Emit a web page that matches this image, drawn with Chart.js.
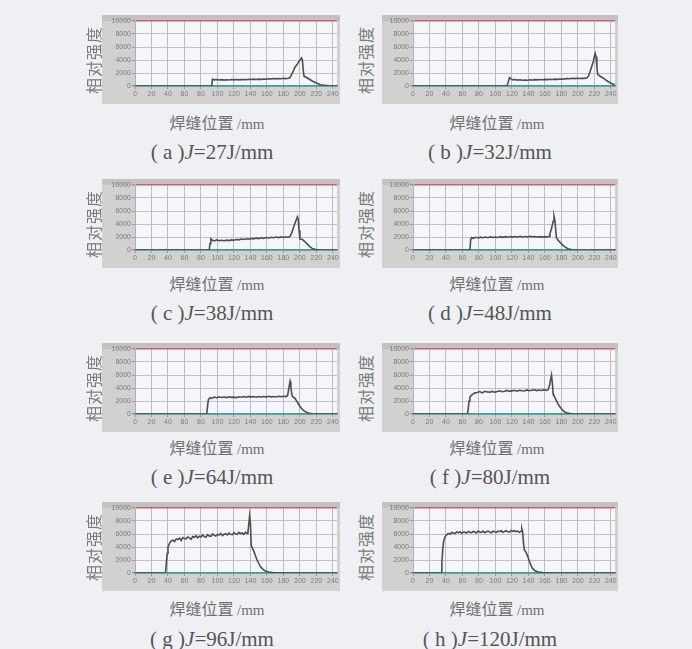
<!DOCTYPE html>
<html>
<head>
<meta charset="utf-8">
<script src="https://cdn.jsdelivr.net/npm/chart.js@4.4.1/dist/chart.umd.min.js"></script>
<style>
body { margin:0; background:#eff0f3; width:692px; height:649px; position:relative; overflow:hidden; font-family:"Noto Sans CJK SC", sans-serif; }
.frame { position:absolute; }
.ylab { position:absolute; font-size:16px; color:#7a7a7a; transform:translate(-50%,-50%) rotate(-90deg); white-space:nowrap; letter-spacing:1px; }
.xlab { position:absolute; font-size:16px; color:#707070; transform:translate(-50%,-50%); white-space:nowrap; }
.xlab span { font-family:"Liberation Serif", serif; font-size:15px; }
.cap { position:absolute; font-family:"Liberation Serif", serif; font-size:21px; color:#555; transform:translate(-50%,-50%); white-space:nowrap; }
</style>
</head>
<body>
<script>
// tick labels
var xTicks = [0, 20, 40, 60, 80, 100, 120, 140, 160, 180, 200, 220, 240];
var yTicks = [0, 2000, 4000, 6000, 8000, 10000];

var letters = ['a', 'b', 'c', 'd', 'e', 'f', 'g', 'h'];
var energies = ['27', '32', '38', '48', '64', '80', '96', '120'];

// [position mm, relative intensity]
var curveA = [[0,0],[93,0],[94,1050],[96,950],[99,1000],[102,920],[105,980],[108,900],[111,960],[114,930],[117,990],[120,940],[123,1000],[126,950],[129,980],[132,1010],[135,960],[138,1030],[141,990],[144,1050],[147,1000],[150,1060],[153,1020],[156,1080],[159,1050],[162,1120],[165,1080],[168,1150],[171,1100],[174,1160],[177,1120],[180,1180],[183,1140],[186,1200],[188,1300],[191,2000],[194,2900],[197,3400],[199,3800],[201,4100],[202,4300],[203,4000],[204,2500],[205,1500],[208,1300],[212,1000],[216,700],[220,450],[225,200],[230,100],[235,50],[240,0],[247,0]];
var curveB = [[0,0],[114,0],[115,400],[117,1300],[119,1100],[121,950],[124,1000],[127,900],[130,950],[133,880],[136,930],[139,890],[142,950],[145,920],[148,980],[151,940],[154,1000],[157,960],[160,1020],[163,980],[166,1040],[169,1000],[172,1060],[175,1020],[178,1070],[181,1040],[184,1100],[187,1150],[190,1120],[193,1180],[196,1130],[199,1190],[202,1150],[205,1200],[208,1170],[211,1250],[213,1600],[215,2300],[217,3100],[219,3900],[220,4600],[221,5000],[222,4500],[223,3000],[224,1800],[227,1500],[231,1200],[235,800],[239,500],[243,250],[247,80]];
var curveC = [[0,0],[90,0],[91,1000],[92,1700],[94,1500],[96,1400],[99,1550],[102,1420],[105,1500],[108,1430],[111,1520],[114,1450],[117,1560],[120,1500],[123,1620],[126,1560],[129,1680],[132,1620],[135,1720],[138,1660],[141,1780],[144,1720],[147,1830],[150,1760],[153,1880],[156,1800],[159,1920],[162,1850],[165,1960],[168,1880],[171,1990],[174,1900],[177,2020],[180,1930],[183,2040],[186,1960],[188,2100],[190,2600],[192,3400],[194,4100],[196,4800],[197,5100],[198,4700],[199,3000],[200,1700],[203,1600],[206,1300],[209,900],[212,500],[215,250],[218,100],[222,30],[228,0],[247,0]];
var curveD = [[0,0],[69,0],[70,1600],[71,1900],[73,1800],[76,1950],[79,1850],[82,1980],[85,1880],[88,2000],[91,1900],[94,2020],[97,1920],[100,2000],[103,1930],[106,2050],[109,1950],[112,2060],[115,1970],[118,2080],[121,1990],[124,2070],[127,2000],[130,2100],[133,2010],[136,2080],[139,2000],[142,2120],[145,2020],[148,2080],[151,2000],[154,2060],[157,1990],[160,2050],[163,2000],[165,2100],[166,2500],[168,3300],[170,4400],[171,5200],[172,4600],[173,3200],[174,1900],[176,1500],[179,1100],[182,700],[185,400],[188,200],[192,80],[196,20],[200,0],[247,0]];
var curveE = [[0,0],[87,0],[88,1200],[89,2200],[91,2500],[93,2400],[96,2600],[99,2500],[102,2650],[105,2550],[108,2620],[111,2520],[114,2640],[117,2560],[120,2600],[123,2530],[126,2650],[129,2570],[132,2680],[135,2580],[138,2700],[141,2600],[144,2680],[147,2590],[150,2700],[153,2620],[156,2690],[159,2600],[162,2720],[165,2640],[168,2700],[171,2620],[174,2730],[177,2650],[180,2720],[183,2680],[185,2800],[186,3500],[187,4300],[188,5000],[189,4200],[190,3200],[191,2700],[194,2400],[197,1800],[200,1200],[203,700],[206,400],[210,150],[215,50],[222,0],[247,0]];
var curveF = [[0,0],[66,0],[67,800],[68,2000],[69,2600],[71,2900],[73,3100],[75,3250],[78,3300],[81,3450],[84,3250],[87,3500],[90,3400],[93,3350],[96,3480],[99,3350],[102,3450],[105,3560],[108,3420],[111,3500],[114,3620],[117,3480],[120,3560],[123,3640],[126,3500],[129,3660],[132,3580],[135,3550],[138,3700],[141,3580],[144,3660],[147,3720],[150,3600],[153,3680],[156,3610],[159,3740],[162,3620],[164,3750],[166,4600],[167,5400],[168,6000],[169,4800],[170,3000],[171,2800],[173,2300],[175,1800],[177,1300],[180,800],[183,400],[187,150],[192,50],[200,0],[247,0]];
var curveG = [[0,0],[37,0],[38,1500],[39,3000],[40,4000],[42,4600],[44,4950],[46,5050],[48,4850],[50,5250],[52,5150],[54,5350],[56,5000],[58,5450],[60,5300],[62,5250],[64,5550],[66,5400],[68,5200],[70,5600],[72,5500],[74,5750],[76,5400],[78,5650],[80,5550],[82,5850],[84,5600],[86,5500],[88,5900],[90,5700],[92,5650],[94,6000],[96,5800],[98,5700],[100,5950],[102,5850],[104,6100],[106,5750],[108,5950],[110,6050],[112,5850],[114,6150],[116,5950],[118,5900],[120,6200],[122,6000],[124,5950],[126,6250],[128,6050],[130,6150],[132,5950],[134,6250],[136,6100],[137,6300],[138,7500],[139,8800],[140,7600],[141,4200],[142,3900],[144,3400],[146,2700],[148,2000],[150,1500],[152,1000],[155,600],[158,300],[162,150],[167,70],[175,30],[185,0],[247,0]];
var curveH = [[0,0],[34,0],[35,1500],[36,3500],[37,4800],[39,5600],[41,5900],[43,6100],[45,5950],[47,6250],[49,6150],[51,6050],[53,6300],[55,6200],[57,6350],[59,6100],[61,6300],[63,6250],[65,6150],[67,6400],[69,6250],[71,6200],[73,6400],[75,6300],[77,6150],[79,6450],[81,6300],[83,6250],[85,6450],[87,6200],[89,6350],[91,6450],[93,6300],[95,6200],[97,6450],[99,6350],[101,6250],[103,6450],[105,6350],[107,6500],[109,6250],[111,6400],[113,6500],[115,6350],[117,6300],[119,6550],[121,6400],[123,6500],[125,6350],[127,6450],[129,6250],[131,6400],[132,6800],[133,6300],[134,4600],[135,3600],[137,3200],[139,2600],[141,1900],[143,1200],[145,700],[148,350],[152,150],[157,60],[165,20],[175,0],[247,0]];

var curves = [curveA, curveB, curveC, curveD, curveE, curveF, curveG, curveH];

// page layout of the 2 x 4 grid
var cols = [
    { left: 102, width: 238, axisW: 33, ylab: 93, xlab: 217, cap: 212 },
    { left: 382, width: 236, axisW: 31, ylab: 365, xlab: 497, cap: 490 }
];
var rows = [
    { top: 15, xlab: 122, cap: 152 },
    { top: 179, xlab: 283, cap: 313 },
    { top: 343, xlab: 447, cap: 477 },
    { top: 502, xlab: 608, cap: 639 }
];

// grey frame, darker top strip, pale plot area
var framePaint = {
    id: 'framePaint',
    beforeDraw: function(chart) {
        var c = chart.ctx, a = chart.chartArea;
        c.save();
        c.fillStyle = '#d3d1d0';
        c.fillRect(0, 0, chart.width, chart.height);
        c.fillStyle = '#c4c2c1';
        c.fillRect(0, 0, chart.width, a.top);
        c.fillStyle = '#f6f6f8';
        c.fillRect(a.left, a.top, a.right - a.left, a.bottom - a.top);
        c.restore();
    }
};

function addText(cls, html, x, y) {
    var d = document.createElement('div');
    d.className = cls;
    d.innerHTML = html;
    d.style.left = x + 'px';
    d.style.top = y + 'px';
    document.body.appendChild(d);
}

curves.forEach(function(curve, i) {
    var col = cols[i % 2], row = rows[Math.floor(i / 2)];

    var div = document.createElement('div');
    div.className = 'frame';
    div.style.left = col.left + 'px';
    div.style.top = row.top + 'px';
    var canvas = document.createElement('canvas');
    canvas.width = col.width;
    canvas.height = 89;
    div.appendChild(canvas);
    document.body.appendChild(div);

    new Chart(canvas.getContext('2d'), {
        type: 'line',
        data: {
            datasets: [{
                data: curve.map(function(p) { return { x: p[0], y: p[1] }; }),
                borderColor: '#4e4e4e',
                borderWidth: 1.6,
                pointRadius: 0,
                tension: 0
            }]
        },
        options: {
            responsive: false,
            animation: false,
            events: [],
            layout: { padding: { top: 6, right: 3, left: 0, bottom: 0 } },
            plugins: { legend: { display: false }, tooltip: { enabled: false } },
            scales: {
                x: {
                    type: 'linear',
                    min: 0,
                    max: 245,
                    afterBuildTicks: function(s) { s.ticks = xTicks.map(function(v) { return { value: v }; }); },
                    afterFit: function(s) { s.height = 18; },
                    grid: { color: '#babac8', lineWidth: 1, tickLength: 3, tickColor: '#999' },
                    border: { color: '#3d9c9a', width: 1.5 },
                    ticks: { font: { family: 'Liberation Sans', size: 7 }, color: '#7a7a7a', padding: 1, maxRotation: 0,
                             callback: function(v) { return String(v); } }
                },
                y: {
                    min: 0,
                    max: 10000,
                    afterBuildTicks: function(s) { s.ticks = yTicks.map(function(v) { return { value: v }; }); },
                    afterFit: function(s) { s.width = col.axisW; },
                    grid: {
                        color: function(ctx) {
                            var v = ctx.tick.value;
                            if (v === 10000) return '#c8607a';
                            if (v === 0) return '#3d9c9a';
                            return '#c6badb';
                        },
                        lineWidth: function(ctx) { return (ctx.tick.value === 10000 || ctx.tick.value === 0) ? 1.5 : 1; },
                        tickLength: 3,
                        tickColor: '#999'
                    },
                    border: { color: '#b0b0bc' },
                    ticks: { font: { family: 'Liberation Sans', size: 7 }, color: '#7a7a7a', padding: 1,
                             callback: function(v) { return String(v); } }
                }
            }
        },
        plugins: [framePaint]
    });

    addText('ylab', '相对强度', col.ylab, row.top + 45);
    addText('xlab', '焊缝位置 <span>/mm</span>', col.xlab, row.xlab);
    addText('cap', '( ' + letters[i] + ' )<i>J</i>=' + energies[i] + 'J/mm', col.cap, row.cap);
});
</script>
</body>
</html>
